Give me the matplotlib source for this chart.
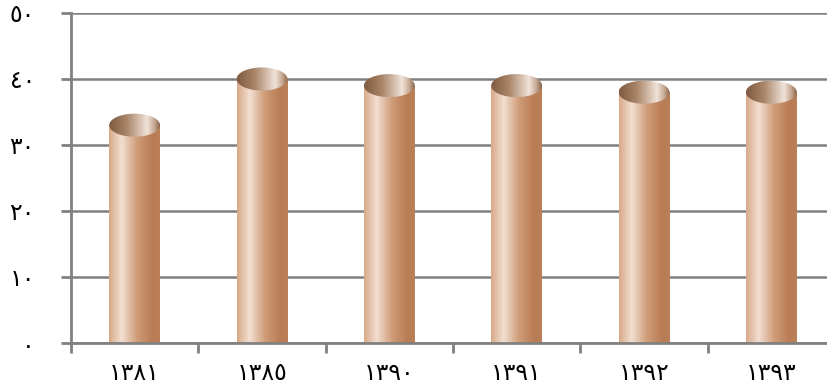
import numpy as np
import matplotlib.pyplot as plt
from matplotlib.colors import LinearSegmentedColormap
from matplotlib.patches import Rectangle, Ellipse

# data
years = ['١٣٨١', '١٣٨٥', '١٣٩٠', '١٣٩١', '١٣٩٢', '١٣٩٣']
values = [33, 40, 39, 39, 38, 38]
yticks = [0, 10, 20, 30, 40, 50]
ytick_labels = ['٠', '١٠', '٢٠', '٣٠', '٤٠', '٥٠']

# cylinder colours
body_cmap = LinearSegmentedColormap.from_list('body', [
    (0.0, '#d9a988'), (0.25, '#f2dfd2'), (0.55, '#cf9c78'), (0.85, '#b97c55'), (1.0, '#bb8059')])
top_cmap = LinearSegmentedColormap.from_list('top', [
    (0.0, '#7e5a40'), (0.35, '#a98569'), (0.75, '#f1e3d9'), (0.9, '#c2a48c'), (1.0, '#86644b')])

grey = '#808080'
bar_w = 0.4
cap_h = 3.5

fig = plt.figure(figsize=(8.28, 3.84), dpi=100)
ax = fig.add_axes([71 / 828, 1 - 343 / 384, (835 - 71) / 828, 330 / 384])

grad = np.linspace(0, 1, 256).reshape(1, -1)
for i, v in enumerate(values):
    x0 = i - bar_w / 2
    body = Rectangle((x0, 0), bar_w, v, transform=ax.transData, facecolor='none', edgecolor='none')
    ax.add_patch(body)
    im = ax.imshow(grad, cmap=body_cmap, extent=(x0, x0 + bar_w, 0, v), aspect='auto', zorder=3)
    im.set_clip_path(body)
    top = Ellipse((i, v), bar_w, cap_h, transform=ax.transData, facecolor='none', edgecolor='none')
    ax.add_patch(top)
    im2 = ax.imshow(grad, cmap=top_cmap, extent=(x0, x0 + bar_w, v - cap_h / 2, v + cap_h / 2),
                    aspect='auto', zorder=4)
    im2.set_clip_path(top)

ax.set_xlim(-0.5, len(years) - 0.5)
ax.set_ylim(0, 50)
ax.set_yticks(yticks)
ax.set_yticklabels(ytick_labels, fontsize=17, family='DejaVu Sans')
ax.set_xticks(np.arange(len(years)))
ax.set_xticklabels(years, fontsize=17, family='DejaVu Sans')
ax.set_xticks(np.arange(len(years) + 1) - 0.5, minor=True)
ax.tick_params(axis='x', which='major', length=0, pad=13)
ax.tick_params(axis='x', which='minor', length=7, width=2, color=grey)
ax.tick_params(axis='y', length=7, width=2, color=grey, pad=19)
for lbl in ax.get_yticklabels():
    lbl.set_horizontalalignment('right')

ax.grid(axis='y', color=grey, linewidth=1.8, zorder=1)
ax.set_axisbelow(True)
for s in ['top', 'right']:
    ax.spines[s].set_visible(False)
for s in ['left', 'bottom']:
    ax.spines[s].set_color(grey)
    ax.spines[s].set_linewidth(2)
    ax.spines[s].set_zorder(5)

fig.savefig('out.png', dpi=100)
